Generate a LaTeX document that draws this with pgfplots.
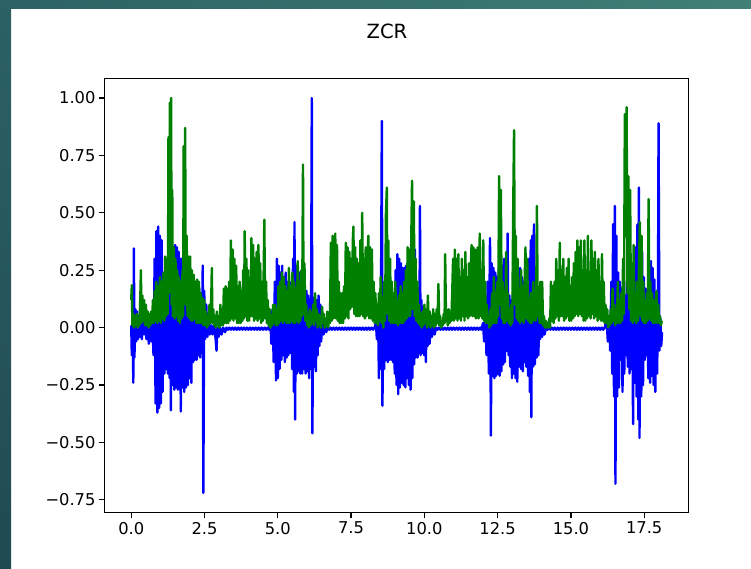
\documentclass[border=0pt]{standalone}
\usepackage{fontspec}
\setmainfont{DejaVu Sans}
\usepackage{pgfplots}
\pgfplotsset{compat=1.18}
\definecolor{mplblue}{rgb}{0,0,1}
\definecolor{mplgreen}{rgb}{0,0.5,0}
\definecolor{tealA}{RGB}{44,98,100}
\definecolor{tealB}{RGB}{64,128,118}
\definecolor{tealC}{RGB}{32,74,82}
\begin{document}
\begin{tikzpicture}
\useasboundingbox (0pt,0pt) rectangle (751pt,569pt);
\fill[white] (0pt,0pt) rectangle (751pt,569pt);
\shade[left color=tealA,right color=tealB] (0pt,560pt) rectangle (751pt,569pt);
\shade[top color=tealA,bottom color=tealC] (0pt,0pt) rectangle (11pt,569pt);
\begin{axis}[
  at={(104.7pt,56.3pt)}, anchor=south west,
  scale only axis, width=583.6pt, height=434.4pt,
  xmin=-0.905, xmax=19.005, ymin=-0.806, ymax=1.086,
  axis line style={black, line width=1.3pt},
  tick style={black, line width=1.3pt},
  major tick length=5.7pt,
  tick align=outside,
  tick pos=left,
  xtick={0,2.5,5,7.5,10,12.5,15,17.5},
  xticklabels={0.0,2.5,5.0,7.5,10.0,12.5,15.0,17.5},
  ytick={-0.75,-0.5,-0.25,0,0.25,0.5,0.75,1},
  yticklabels={−0.75,−0.50,−0.25,0.00,0.25,0.50,0.75,1.00},
  ticklabel style={font=\fontsize{16.3}{19.6}\selectfont},
  /pgf/number format/assume math mode=true,
  title={ZCR},
  title style={font=\fontsize{19.6}{23.5}\selectfont, at={(0.4837,1)}, anchor=base, yshift=33.3pt},
  every axis plot/.append style={line join=round, line width=2.4pt},
]
\addplot[mplblue, mark=none] coordinates {
(0.00,0.01)(0.02,-0.12)(0.05,0.10)(0.07,-0.24)(0.09,0.345)(0.11,-0.13)(0.14,0.08)(0.17,-0.06)(0.20,0.07)(0.23,-0.05)(0.26,0.05)(0.29,-0.04)(0.32,0.04)(0.36,-0.05)(0.40,0.03)(0.44,-0.03)(0.48,0.04)(0.52,-0.05)(0.56,0.02)(0.60,-0.07)(0.64,0.03)(0.68,-0.06)(0.72,0.04)(0.76,-0.12)
(0.80,0.30)(0.83,-0.33)(0.86,0.42)(0.89,-0.37)(0.92,0.44)(0.95,-0.35)(0.98,0.40)(1.01,-0.33)(1.04,0.38)(1.07,-0.28)(1.10,0.22)(1.13,-0.20)(1.16,0.18)(1.19,-0.18)(1.22,0.22)(1.25,-0.20)(1.28,0.25)(1.31,-0.22)(1.33,0.45)(1.35,-0.36)(1.38,0.32)(1.41,-0.25)(1.44,0.30)(1.47,-0.27)(1.50,0.36)(1.53,-0.26)(1.56,0.35)(1.59,-0.27)(1.62,0.33)(1.65,-0.27)(1.67,0.30)(1.69,-0.365)(1.72,0.30)(1.75,-0.26)(1.78,0.345)(1.81,-0.28)(1.84,0.32)(1.87,-0.26)(1.90,0.27)(1.93,-0.25)(1.96,0.26)(1.99,-0.22)(2.02,0.24)(2.05,-0.24)(2.08,0.20)(2.11,-0.15)(2.14,0.21)(2.17,-0.14)(2.20,0.18)(2.23,-0.14)(2.26,0.19)(2.29,-0.12)(2.32,0.17)(2.35,-0.13)(2.38,0.15)(2.41,-0.11)(2.44,0.27)(2.46,-0.72)(2.49,0.16)(2.52,-0.05)(2.56,0.10)(2.60,-0.04)(2.64,0.05)(2.68,-0.03)(2.73,0.01)(2.78,-0.03)(2.83,0.01)(2.88,-0.05)(2.91,-0.10)(2.94,0.00)(2.98,-0.04)(3.03,0.00)(3.08,-0.03)(3.14,0.00)(3.20,-0.02)
(3.25,0)(3.30,-0.009)(3.35,0)(3.40,-0.009)(3.45,0)(3.50,-0.009)(3.55,0)(3.60,-0.009)(3.65,0)(3.70,-0.009)(3.75,0)(3.80,-0.009)(3.85,0)(3.90,-0.009)(3.95,0)(4.00,-0.009)(4.05,0)(4.10,-0.009)(4.15,0)(4.20,-0.009)(4.25,0)(4.30,-0.009)(4.35,0)(4.40,-0.009)(4.45,0)(4.50,-0.009)(4.55,0)(4.60,-0.009)(4.65,0)(4.70,-0.009)
(4.75,0.03)(4.78,-0.07)(4.82,0.08)(4.86,-0.15)(4.90,0.20)(4.94,-0.23)(4.97,0.30)(5.00,-0.22)(5.03,0.27)(5.06,-0.18)(5.09,0.24)(5.12,-0.14)(5.15,0.27)(5.18,-0.12)(5.21,0.22)(5.24,-0.15)(5.27,0.24)(5.30,-0.13)(5.33,0.20)(5.36,-0.12)(5.40,0.18)(5.43,-0.11)(5.46,0.20)(5.49,-0.18)(5.52,0.30)(5.55,-0.28)(5.57,0.46)(5.59,-0.40)(5.62,0.27)(5.65,-0.20)(5.68,0.25)(5.71,-0.19)(5.74,0.24)(5.77,-0.20)(5.80,0.22)(5.83,-0.20)(5.86,0.20)(5.89,-0.18)(5.92,0.18)(5.95,-0.20)(5.98,0.16)(6.01,-0.19)(6.04,0.14)(6.07,-0.22)(6.10,0.12)(6.13,-0.18)(6.16,1.00)(6.18,-0.46)(6.21,0.13)(6.24,-0.17)(6.27,0.13)(6.30,-0.19)(6.33,0.12)(6.36,-0.12)(6.39,0.14)(6.42,-0.08)(6.45,0.10)(6.48,-0.06)(6.52,0.04)(6.56,-0.03)(6.60,0.02)(6.65,-0.02)
(6.70,0)(6.75,-0.009)(6.80,0)(6.85,-0.009)(6.90,0)(6.95,-0.009)(7.00,0)(7.05,-0.009)(7.10,0)(7.15,-0.009)(7.20,0)(7.25,-0.009)(7.30,0)(7.35,-0.009)(7.40,0)(7.45,-0.009)(7.50,0)(7.55,-0.009)(7.60,0)(7.65,-0.009)(7.70,0)(7.75,-0.009)(7.80,0)(7.85,-0.009)(7.90,0)(7.95,-0.009)(8.00,0)(8.05,-0.009)(8.10,0)(8.15,-0.009)(8.20,0)(8.25,-0.009)(8.30,0)
(8.35,0.02)(8.38,-0.05)(8.42,0.08)(8.45,-0.22)(8.48,0.09)(8.51,-0.18)(8.55,0.90)(8.57,-0.34)(8.60,0.07)(8.63,-0.18)(8.66,0.06)(8.69,-0.14)(8.72,0.07)(8.75,-0.15)(8.78,0.06)(8.81,-0.14)(8.84,0.07)(8.87,-0.14)(8.90,0.08)(8.93,-0.15)(8.96,0.12)(8.99,-0.20)(9.02,0.25)(9.05,-0.25)(9.08,0.32)(9.11,-0.29)(9.14,0.30)(9.17,-0.26)(9.20,0.28)(9.23,-0.24)(9.26,0.26)(9.29,-0.25)(9.32,0.26)(9.35,-0.26)(9.38,0.27)(9.41,-0.22)(9.44,0.24)(9.47,-0.25)(9.50,0.22)(9.53,-0.27)(9.56,0.20)(9.59,-0.22)(9.62,0.25)(9.65,-0.16)(9.68,0.34)(9.71,-0.13)(9.74,0.20)(9.77,-0.13)(9.80,0.15)(9.83,-0.11)(9.85,0.53)(9.87,-0.12)(9.90,0.12)(9.93,-0.11)(9.96,0.09)(9.99,-0.12)(10.02,0.07)(10.05,-0.15)(10.08,0.05)(10.11,-0.08)(10.14,0.04)(10.18,-0.07)(10.22,0.03)(10.26,-0.04)(10.30,0.02)(10.35,-0.03)
(10.40,0)(10.45,-0.009)(10.50,0)(10.55,-0.009)(10.60,0)(10.65,-0.009)(10.70,0)(10.75,-0.009)(10.80,0)(10.85,-0.009)(10.90,0)(10.95,-0.009)(11.00,0)(11.05,-0.009)(11.10,0)(11.15,-0.009)(11.20,0)(11.25,-0.009)(11.30,0)(11.35,-0.009)(11.40,0)(11.45,-0.009)(11.50,0)(11.55,-0.009)(11.60,0)(11.65,-0.009)(11.70,0)(11.75,-0.009)(11.80,0)(11.85,-0.009)(11.90,0)(11.95,-0.009)
(12.00,0.02)(12.04,-0.06)(12.08,0.10)(12.12,-0.12)(12.16,0.20)(12.20,-0.20)(12.24,0.39)(12.27,-0.47)(12.30,0.28)(12.33,-0.21)(12.36,0.26)(12.39,-0.22)(12.42,0.24)(12.45,-0.21)(12.48,0.22)(12.51,-0.20)(12.54,0.26)(12.57,-0.21)(12.60,0.26)(12.63,-0.19)(12.66,0.27)(12.69,-0.16)(12.72,0.30)(12.75,-0.15)(12.78,0.27)(12.81,-0.10)(12.84,0.41)(12.87,-0.12)(12.90,0.14)(12.93,-0.17)(12.96,0.12)(12.99,-0.22)(13.02,0.15)(13.05,-0.20)(13.08,0.14)(13.11,-0.22)(13.14,0.16)(13.17,-0.235)(13.20,0.21)(13.23,-0.17)(13.27,0.26)(13.30,-0.18)(13.33,0.22)(13.36,-0.19)(13.39,0.20)(13.42,-0.15)(13.45,0.22)(13.48,-0.17)(13.51,0.26)(13.54,-0.21)(13.57,0.30)(13.60,-0.28)(13.63,0.38)(13.65,-0.39)(13.68,0.40)(13.71,-0.17)(13.74,0.45)(13.77,-0.16)(13.80,0.10)(13.83,-0.13)(13.86,0.08)(13.89,-0.12)(13.92,0.06)(13.95,-0.05)(13.98,0.04)(14.02,-0.04)(14.06,0.02)(14.10,-0.03)
(14.15,0)(14.20,-0.009)(14.25,0)(14.30,-0.009)(14.35,0)(14.40,-0.009)(14.45,0)(14.50,-0.009)(14.55,0)(14.60,-0.009)(14.65,0)(14.70,-0.009)(14.75,0)(14.80,-0.009)(14.85,0)(14.90,-0.009)(14.95,0)(15.00,-0.009)(15.05,0)(15.10,-0.009)(15.15,0)(15.20,-0.009)(15.25,0)(15.30,-0.009)(15.35,0)(15.40,-0.009)(15.45,0)(15.50,-0.009)(15.55,0)(15.60,-0.009)(15.65,0)(15.70,-0.009)(15.75,0)(15.80,-0.009)(15.85,0)(15.90,-0.009)(15.95,0)(16.00,-0.009)(16.05,0)(16.10,-0.009)(16.15,0)
(16.22,0.03)(16.26,-0.06)(16.30,0.05)(16.34,-0.10)(16.38,0.20)(16.41,-0.20)(16.44,0.45)(16.47,-0.30)(16.50,0.53)(16.52,-0.68)(16.55,0.40)(16.58,-0.30)(16.61,0.24)(16.64,-0.26)(16.67,0.20)(16.70,-0.14)(16.73,0.17)(16.76,-0.28)(16.79,0.20)(16.82,-0.20)(16.85,0.14)(16.88,-0.12)(16.91,0.20)(16.94,-0.17)(16.97,0.25)(17.00,-0.20)(17.03,0.22)(17.06,-0.18)(17.09,0.25)(17.12,-0.42)(17.15,0.22)(17.18,-0.24)(17.21,0.35)(17.24,-0.30)(17.27,0.45)(17.30,-0.40)(17.32,0.61)(17.34,-0.48)(17.37,0.40)(17.40,-0.30)(17.43,0.33)(17.46,-0.25)(17.49,0.22)(17.52,-0.14)(17.55,0.17)(17.58,-0.12)(17.61,0.14)(17.64,-0.22)(17.67,0.12)(17.70,-0.24)(17.73,0.29)(17.76,-0.21)(17.79,0.26)(17.82,-0.25)(17.85,0.21)(17.88,-0.28)(17.91,0.15)(17.94,-0.20)(17.97,0.10)(17.99,0.89)(18.02,-0.10)(18.05,0.04)(18.08,-0.08)(18.11,-0.02)
};
\addplot[mplgreen, mark=none] coordinates {
(0.00,0.12)(0.02,0.185)(0.04,0.01)(0.07,0.06)(0.10,0.00)(0.13,0.05)(0.16,0.01)(0.19,0.06)(0.22,0.00)(0.25,0.04)(0.28,0.01)(0.31,0.13)(0.33,0.25)(0.35,0.02)(0.38,0.14)(0.41,0.03)(0.44,0.12)(0.47,0.01)(0.50,0.10)(0.53,0.01)(0.56,0.07)(0.59,0.00)(0.62,0.06)(0.65,0.01)(0.68,0.07)(0.71,0.02)
(0.74,0.12)(0.77,0.02)(0.80,0.16)(0.83,0.03)(0.86,0.20)(0.89,0.02)(0.92,0.18)(0.95,0.03)(0.98,0.22)(1.01,0.02)(1.04,0.20)(1.07,0.04)(1.10,0.24)(1.13,0.03)(1.16,0.31)(1.19,0.05)(1.22,0.30)(1.25,0.06)(1.27,0.83)(1.29,0.15)(1.32,0.98)(1.34,0.40)(1.36,1.00)(1.38,0.10)(1.40,0.60)(1.42,0.05)(1.45,0.35)(1.48,0.04)(1.51,0.30)(1.54,0.05)(1.57,0.25)(1.60,0.03)(1.63,0.22)(1.66,0.02)(1.69,0.20)(1.72,0.04)(1.75,0.25)(1.77,0.05)(1.79,0.79)(1.81,0.30)(1.84,0.87)(1.86,0.10)(1.89,0.40)(1.92,0.05)(1.95,0.31)(1.98,0.04)
(2.01,0.31)(2.04,0.03)(2.07,0.25)(2.10,0.03)(2.13,0.23)(2.16,0.04)(2.19,0.20)(2.22,0.02)(2.25,0.21)(2.28,0.02)(2.31,0.20)(2.34,0.02)(2.37,0.15)(2.40,0.02)(2.43,0.13)(2.46,0.01)(2.49,0.12)(2.52,0.01)(2.55,0.07)(2.58,0.00)(2.61,0.05)(2.64,0.01)(2.67,0.10)(2.70,0.02)(2.73,0.13)(2.75,0.26)(2.77,0.02)(2.80,0.08)(2.83,0.01)(2.86,0.05)(2.89,0.00)(2.92,0.07)(2.95,0.01)(2.98,0.04)
(3.01,0.00)(3.04,0.10)(3.07,0.01)(3.10,0.08)(3.13,0.01)(3.16,0.17)(3.19,0.02)(3.22,0.18)(3.25,0.02)(3.28,0.17)(3.31,0.02)(3.34,0.20)(3.37,0.03)(3.40,0.38)(3.43,0.04)(3.46,0.34)(3.49,0.03)(3.52,0.30)(3.55,0.04)(3.58,0.27)(3.61,0.02)(3.64,0.18)(3.67,0.02)(3.70,0.20)(3.73,0.02)(3.76,0.16)(3.79,0.03)(3.82,0.25)(3.85,0.04)(3.87,0.42)(3.90,0.05)(3.93,0.30)(3.96,0.03)(3.99,0.25)
(4.02,0.03)(4.05,0.20)(4.08,0.05)(4.10,0.39)(4.13,0.05)(4.16,0.36)(4.19,0.03)(4.22,0.30)(4.25,0.04)(4.28,0.33)(4.31,0.03)(4.34,0.36)(4.37,0.04)(4.40,0.28)(4.43,0.02)(4.46,0.20)(4.49,0.03)(4.52,0.25)(4.54,0.47)(4.57,0.04)(4.60,0.20)(4.63,0.02)(4.66,0.12)(4.69,0.01)(4.72,0.08)(4.75,0.00)(4.78,0.05)(4.81,0.01)(4.84,0.10)(4.87,0.02)(4.90,0.10)(4.93,0.01)(4.96,0.08)(4.99,0.01)
(5.02,0.18)(5.05,0.02)(5.08,0.20)(5.11,0.03)(5.14,0.24)(5.17,0.02)(5.20,0.22)(5.23,0.03)(5.26,0.18)(5.29,0.02)(5.32,0.16)(5.35,0.02)(5.38,0.26)(5.41,0.02)(5.44,0.18)(5.47,0.03)(5.50,0.24)(5.53,0.02)(5.56,0.20)(5.59,0.02)(5.62,0.17)(5.65,0.03)(5.68,0.29)(5.71,0.02)(5.74,0.20)(5.77,0.03)(5.80,0.25)(5.83,0.05)(5.86,0.71)(5.88,0.06)(5.91,0.28)(5.94,0.03)(5.97,0.10)
(6.00,0.01)(6.03,0.05)(6.06,0.00)(6.09,0.08)(6.12,0.01)(6.15,0.06)(6.18,0.02)(6.21,0.10)(6.24,0.01)(6.27,0.15)(6.30,0.03)(6.33,0.08)(6.36,0.00)(6.39,0.06)(6.42,0.01)(6.45,0.05)(6.48,0.00)(6.51,0.09)(6.54,0.02)(6.57,0.06)(6.60,0.00)(6.63,0.04)(6.66,0.01)(6.69,0.07)(6.72,0.00)(6.75,0.05)(6.78,0.02)
(6.81,0.37)(6.84,0.03)(6.87,0.40)(6.90,0.04)(6.93,0.20)(6.96,0.41)(6.99,0.04)(7.02,0.36)(7.05,0.03)(7.08,0.20)(7.11,0.02)(7.14,0.15)(7.17,0.02)(7.20,0.15)(7.23,0.02)(7.26,0.18)(7.29,0.04)(7.32,0.37)(7.35,0.05)(7.38,0.35)(7.41,0.04)(7.44,0.33)(7.47,0.08)(7.50,0.30)(7.53,0.09)(7.56,0.38)(7.58,0.44)(7.61,0.06)(7.64,0.35)(7.67,0.05)(7.70,0.30)(7.73,0.05)(7.76,0.28)(7.79,0.05)(7.82,0.38)(7.85,0.06)(7.88,0.50)(7.91,0.05)(7.94,0.30)(7.97,0.04)
(8.00,0.35)(8.03,0.05)(8.06,0.30)(8.09,0.40)(8.12,0.04)(8.15,0.35)(8.18,0.04)(8.21,0.34)(8.24,0.03)(8.27,0.20)(8.30,0.02)(8.33,0.15)(8.36,0.02)(8.39,0.10)(8.42,0.01)(8.45,0.15)(8.48,0.03)(8.51,0.22)(8.54,0.02)(8.57,0.08)(8.60,0.00)
(8.63,0.20)(8.66,0.03)(8.69,0.50)(8.72,0.61)(8.74,0.06)(8.77,0.38)(8.80,0.03)(8.83,0.30)(8.86,0.02)(8.89,0.20)(8.92,0.02)(8.95,0.15)(8.98,0.02)(9.01,0.20)(9.04,0.02)(9.07,0.12)(9.10,0.01)(9.13,0.14)(9.16,0.02)(9.19,0.18)(9.22,0.02)(9.25,0.15)(9.28,0.02)(9.31,0.20)(9.34,0.03)(9.37,0.25)(9.40,0.04)(9.43,0.35)(9.46,0.05)(9.49,0.34)(9.52,0.05)(9.55,0.35)(9.58,0.64)(9.61,0.08)(9.64,0.55)(9.67,0.05)(9.70,0.30)(9.73,0.03)(9.76,0.20)(9.79,0.02)(9.82,0.10)(9.85,0.01)(9.88,0.06)(9.91,0.00)(9.94,0.07)(9.97,0.01)
(10.00,0.10)(10.03,0.02)(10.06,0.08)(10.09,0.00)(10.12,0.14)(10.15,0.01)(10.18,0.07)(10.21,0.00)(10.24,0.05)(10.27,0.01)(10.30,0.08)(10.33,0.00)(10.36,0.06)(10.39,0.01)(10.42,0.08)(10.45,0.02)(10.48,0.19)(10.51,0.01)(10.54,0.05)(10.57,0.00)(10.60,0.03)(10.63,0.01)(10.66,0.06)(10.69,0.02)(10.71,0.32)(10.74,0.03)(10.77,0.05)(10.80,0.01)(10.83,0.08)(10.86,0.02)(10.89,0.07)(10.92,0.03)
(10.95,0.15)(10.98,0.30)(11.01,0.03)(11.04,0.34)(11.07,0.04)(11.10,0.30)(11.13,0.03)(11.16,0.32)(11.19,0.04)(11.22,0.22)(11.25,0.03)(11.28,0.30)(11.31,0.05)(11.34,0.25)(11.37,0.03)(11.40,0.33)(11.43,0.05)(11.46,0.22)(11.49,0.04)(11.52,0.28)(11.55,0.05)(11.58,0.25)(11.61,0.36)(11.64,0.05)(11.67,0.35)(11.70,0.05)(11.73,0.34)(11.76,0.04)(11.79,0.18)(11.82,0.35)(11.85,0.04)(11.89,0.41)(11.92,0.05)(11.95,0.25)(11.98,0.04)
(12.01,0.38)(12.04,0.03)(12.07,0.20)(12.10,0.02)(12.13,0.10)(12.16,0.02)(12.19,0.05)(12.22,0.00)(12.25,0.08)(12.28,0.01)(12.31,0.15)(12.34,0.02)(12.37,0.22)(12.40,0.02)(12.43,0.15)(12.46,0.02)(12.49,0.20)(12.52,0.05)(12.55,0.66)(12.58,0.10)(12.61,0.60)(12.64,0.04)(12.67,0.20)(12.70,0.02)(12.73,0.12)(12.76,0.02)(12.79,0.33)(12.82,0.03)(12.85,0.15)(12.88,0.02)(12.91,0.08)(12.94,0.01)(12.97,0.10)
(13.00,0.02)(13.03,0.50)(13.06,0.86)(13.09,0.10)(13.12,0.40)(13.15,0.04)(13.18,0.30)(13.21,0.03)(13.24,0.17)(13.27,0.02)(13.30,0.25)(13.33,0.03)(13.36,0.18)(13.39,0.02)(13.42,0.20)(13.45,0.35)(13.48,0.04)(13.51,0.30)(13.54,0.03)(13.57,0.12)(13.60,0.02)(13.63,0.15)(13.66,0.02)(13.69,0.12)(13.72,0.20)(13.75,0.03)(13.78,0.15)(13.81,0.03)(13.84,0.53)(13.87,0.05)(13.90,0.15)(13.93,0.02)(13.96,0.20)(13.99,0.02)
(14.02,0.20)(14.05,0.01)(14.08,0.05)(14.11,0.00)(14.14,0.03)(14.17,0.00)(14.20,0.02)(14.23,0.00)(14.26,0.04)(14.29,0.00)
(14.32,0.20)(14.35,0.03)(14.38,0.18)(14.41,0.02)(14.44,0.20)(14.47,0.04)(14.50,0.30)(14.53,0.05)(14.56,0.25)(14.59,0.03)(14.62,0.37)(14.65,0.05)(14.68,0.25)(14.71,0.05)(14.74,0.30)(14.77,0.03)(14.80,0.22)(14.83,0.04)(14.86,0.26)(14.89,0.05)(14.92,0.30)(14.95,0.03)(14.98,0.18)
(15.01,0.03)(15.04,0.22)(15.07,0.04)(15.10,0.28)(15.13,0.05)(15.16,0.33)(15.19,0.06)(15.22,0.38)(15.25,0.05)(15.28,0.35)(15.31,0.06)(15.34,0.38)(15.37,0.05)(15.40,0.25)(15.43,0.03)(15.46,0.38)(15.49,0.03)(15.52,0.25)(15.55,0.04)(15.58,0.40)(15.61,0.05)(15.64,0.22)(15.67,0.04)(15.70,0.38)(15.73,0.06)(15.76,0.30)(15.79,0.04)(15.82,0.33)(15.85,0.05)(15.88,0.25)(15.91,0.03)(15.94,0.30)(15.97,0.04)
(16.00,0.20)(16.03,0.03)(16.06,0.32)(16.09,0.03)(16.12,0.20)(16.15,0.02)(16.18,0.10)(16.21,0.02)(16.24,0.08)(16.27,0.00)(16.30,0.05)(16.33,0.01)(16.36,0.08)(16.39,0.02)(16.42,0.17)(16.45,0.03)(16.48,0.10)(16.51,0.01)(16.54,0.08)(16.57,0.02)
(16.60,0.20)(16.63,0.02)(16.66,0.12)(16.69,0.02)(16.72,0.15)(16.75,0.03)(16.78,0.30)(16.81,0.06)(16.84,0.93)(16.87,0.40)(16.90,0.96)(16.93,0.15)(16.96,0.66)(16.99,0.08)
(17.02,0.60)(17.05,0.03)(17.08,0.12)(17.11,0.02)(17.14,0.36)(17.17,0.03)(17.20,0.12)(17.23,0.02)(17.26,0.20)(17.29,0.03)(17.32,0.25)(17.35,0.46)(17.38,0.05)(17.41,0.40)(17.44,0.03)(17.47,0.20)(17.50,0.02)(17.53,0.12)(17.56,0.02)(17.59,0.15)(17.62,0.03)(17.65,0.56)(17.68,0.04)(17.71,0.20)(17.74,0.03)(17.77,0.15)(17.80,0.02)(17.83,0.12)(17.86,0.02)(17.89,0.10)(17.92,0.16)(17.95,0.02)(17.98,0.10)
(18.01,0.02)(18.04,0.05)(18.07,0.01)(18.10,0.03)
};
\end{axis}
\end{tikzpicture}
\end{document}
